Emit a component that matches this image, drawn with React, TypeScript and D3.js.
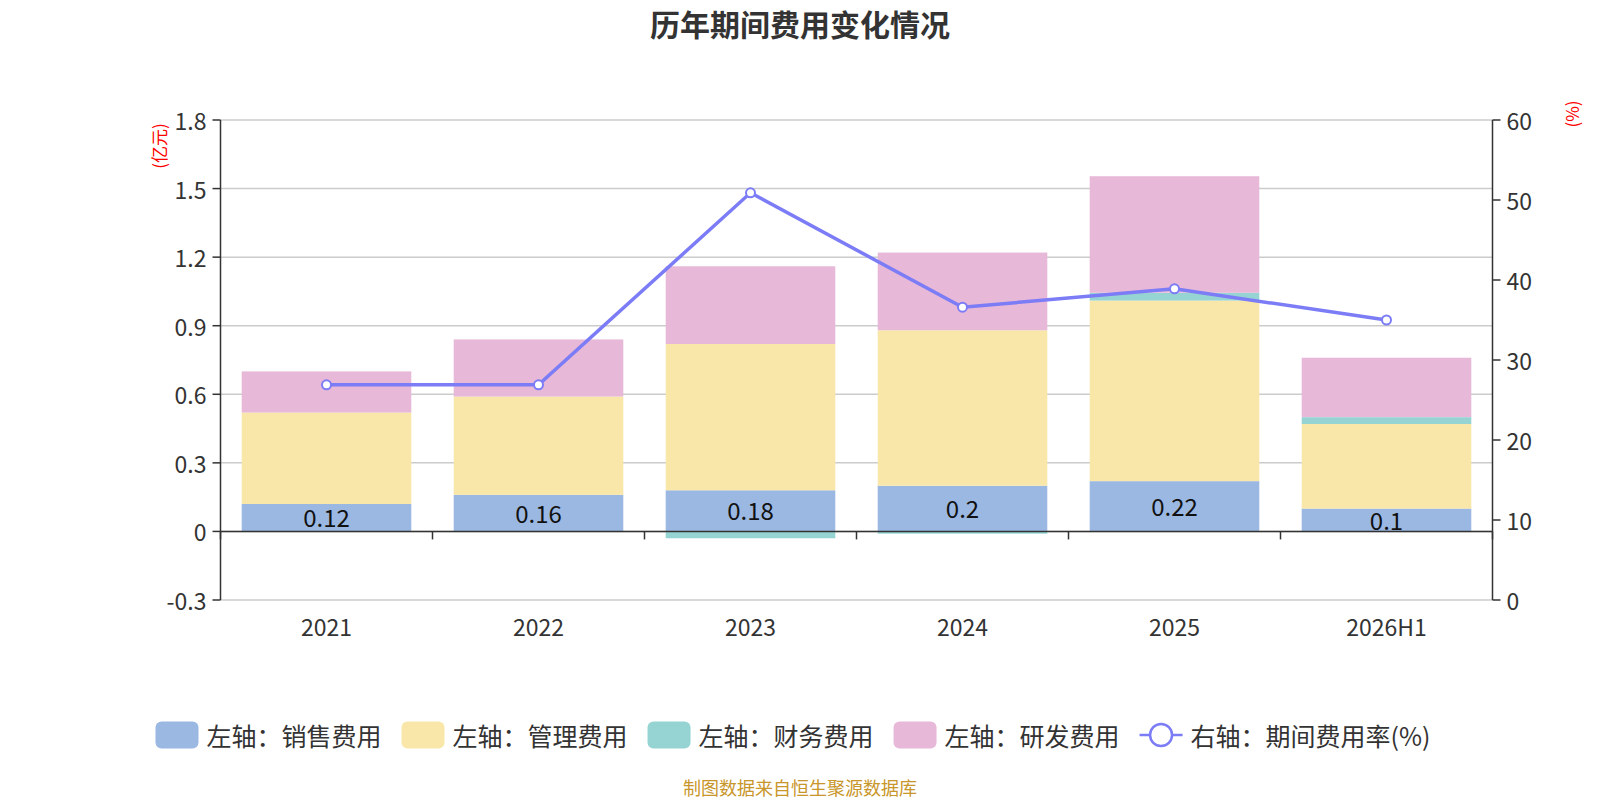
import React, { useRef, useEffect } from 'react';
import * as d3 from 'd3';

const categories = ['2021', '2022', '2023', '2024', '2025', '2026H1'];
const salesCost = [0.12, 0.16, 0.18, 0.2, 0.22, 0.1];
const adminCost = [0.4, 0.43, 0.64, 0.68, 0.79, 0.37];
const financeCost = [0, 0, -0.03, -0.01, 0.034, 0.03];
const rdCost = [0.18, 0.25, 0.34, 0.34, 0.51, 0.26];
const expenseRate = [26.9, 26.9, 50.9, 36.6, 38.9, 35.0];

const leftTicks = [-0.3, 0, 0.3, 0.6, 0.9, 1.2, 1.5, 1.8];
const rightTicks = [0, 10, 20, 30, 40, 50, 60];

const seriesNames = ['左轴：销售费用', '左轴：管理费用', '左轴：财务费用', '左轴：研发费用'];
const lineName = '右轴：期间费用率(%)';
const colors = ['#9bb8e2', '#f8e7a9', '#96d4d4', '#e7b8d8'];
const lineColor = '#7b7cf6';

const FONT = '"Noto Sans CJK SC", "Noto Sans", sans-serif';

const App: React.FC = () => {
  const svgRef = useRef<SVGSVGElement | null>(null);

  useEffect(() => {
    document.body.style.margin = '0';
    if (!svgRef.current) return;
    const svg = d3.select(svgRef.current);
    svg.selectAll('*').remove();

    const W = 1600;
    const margin = { left: 220.5, right: 1600 - 1492.5, top: 120, bottom: 200 };
    const plotW = W - margin.left - margin.right;

    const x = d3.scaleBand<string>().domain(categories).range([margin.left, margin.left + plotW]).paddingInner(0.2).paddingOuter(0.1);
    const xOuter = d3.scaleBand<string>().domain(categories).range([margin.left, margin.left + plotW]);
    const yL = d3.scaleLinear().domain([-0.3, 1.8]).range([600, 120]);
    const yR = d3.scaleLinear().domain([0, 60]).range([600, 120]);

    // title
    svg.append('text')
      .attr('x', 800).attr('y', 23)
      .attr('text-anchor', 'middle').attr('dominant-baseline', 'central')
      .attr('font-size', 30).attr('font-weight', 'bold').attr('fill', '#333')
      .text('历年期间费用变化情况');

    // grid
    svg.append('g').selectAll('line').data(leftTicks).enter().append('line')
      .attr('x1', margin.left).attr('x2', margin.left + plotW)
      .attr('y1', d => yL(d)).attr('y2', d => yL(d))
      .attr('stroke', '#ccc').attr('stroke-width', 1.5);

    // stacked bars
    const rows = categories.map((c, i) => ({ cat: c, s0: salesCost[i], s1: adminCost[i], s2: financeCost[i], s3: rdCost[i] }));
    const stack = d3.stack<any>().keys(['s0', 's1', 's2', 's3']).offset(d3.stackOffsetDiverging);
    const layers = stack(rows);
    layers.forEach((layer, li) => {
      svg.append('g').selectAll('rect').data(layer).enter().append('rect')
        .attr('x', d => x(d.data.cat)!)
        .attr('width', x.bandwidth())
        .attr('y', d => yL(Math.max(d[0], d[1])))
        .attr('height', d => Math.abs(yL(d[0]) - yL(d[1])))
        .attr('fill', colors[li]);
    });

    // labels on sales
    svg.append('g').selectAll('text').data(layers[0]).enter().append('text')
      .attr('x', d => x(d.data.cat)! + x.bandwidth() / 2)
      .attr('y', d => (yL(d[0]) + yL(d[1])) / 2 - 1)
      .attr('text-anchor', 'middle').attr('dominant-baseline', 'central')
      .attr('font-size', 24).attr('fill', '#111')
      .text(d => String(d.data.s0));

    // axes
    const axisColor = '#333';
    const gx = svg.append('g').attr('transform', `translate(0,${yL(0)})`);
    gx.append('line').attr('x1', margin.left).attr('x2', margin.left + plotW).attr('stroke', axisColor).attr('stroke-width', 1.5);
    gx.selectAll('.tk').data([...categories.map(c => xOuter(c)!), margin.left + plotW]).enter().append('line')
      .attr('x1', d => d).attr('x2', d => d).attr('y1', 0).attr('y2', 8)
      .attr('stroke', axisColor).attr('stroke-width', 1.5);
    svg.append('g').selectAll('text').data(categories).enter().append('text')
      .attr('x', d => xOuter(d)! + xOuter.bandwidth() / 2).attr('y', 626)
      .attr('text-anchor', 'middle').attr('dominant-baseline', 'central')
      .attr('font-size', 23).attr('fill', '#333').text(d => d);

    const gl = svg.append('g');
    gl.append('line').attr('x1', margin.left).attr('x2', margin.left).attr('y1', 120).attr('y2', 600).attr('stroke', axisColor).attr('stroke-width', 1.5);
    gl.selectAll('line.t').data(leftTicks).enter().append('line')
      .attr('x1', margin.left - 8).attr('x2', margin.left).attr('y1', d => yL(d)).attr('y2', d => yL(d))
      .attr('stroke', axisColor).attr('stroke-width', 1.5);
    gl.selectAll('text').data(leftTicks).enter().append('text')
      .attr('x', margin.left - 14).attr('y', d => yL(d))
      .attr('text-anchor', 'end').attr('dominant-baseline', 'central')
      .attr('font-size', 23).attr('fill', '#333').text(d => String(d));

    const xr = margin.left + plotW;
    const gr = svg.append('g');
    gr.append('line').attr('x1', xr).attr('x2', xr).attr('y1', 120).attr('y2', 600).attr('stroke', axisColor).attr('stroke-width', 1.5);
    gr.selectAll('line.t').data(rightTicks).enter().append('line')
      .attr('x1', xr).attr('x2', xr + 8).attr('y1', d => yR(d)).attr('y2', d => yR(d))
      .attr('stroke', axisColor).attr('stroke-width', 1.5);
    gr.selectAll('text').data(rightTicks).enter().append('text')
      .attr('x', xr + 14).attr('y', d => yR(d))
      .attr('text-anchor', 'start').attr('dominant-baseline', 'central')
      .attr('font-size', 23).attr('fill', '#333').text(d => String(d));

    // unit labels
    svg.append('text').attr('transform', 'translate(158,146) rotate(-90)')
      .attr('text-anchor', 'middle').attr('dominant-baseline', 'central')
      .attr('font-size', 17).attr('fill', 'red').text('(亿元)');
    svg.append('text').attr('transform', 'translate(1571,114) rotate(-90)')
      .attr('text-anchor', 'middle').attr('dominant-baseline', 'central')
      .attr('font-size', 17).attr('fill', 'red').text('(%)');

    // line
    const cx = (c: string) => xOuter(c)! + xOuter.bandwidth() / 2;
    const lineGen = d3.line<number>().x((_, i) => cx(categories[i])).y(d => yR(d));
    svg.append('path').datum(expenseRate).attr('d', lineGen)
      .attr('fill', 'none').attr('stroke', lineColor).attr('stroke-width', 3.5);
    svg.append('g').selectAll('circle').data(expenseRate).enter().append('circle')
      .attr('cx', (_, i) => cx(categories[i])).attr('cy', d => yR(d)).attr('r', 4.5)
      .attr('fill', '#fff').attr('stroke', lineColor).attr('stroke-width', 2);

    // legend
    const lg = svg.append('g');
    const items = [...seriesNames, lineName];
    const swW = 43, swH = 27, gap = 8, itemGap = 20;
    const ly = 735;
    const widths: number[] = [];
    const texts = items.map(name => {
      const t = lg.append('text').attr('font-size', 25).attr('fill', '#333')
        .attr('dominant-baseline', 'central').attr('y', ly).text(name);
      widths.push((t.node() as SVGTextElement).getComputedTextLength());
      return t;
    });
    const total = d3.sum(widths) + items.length * (swW + gap) + (items.length - 1) * itemGap;
    let cur = 793 - total / 2;
    items.forEach((name, i) => {
      if (i < seriesNames.length) {
        lg.append('rect').attr('x', cur).attr('y', ly - swH / 2).attr('width', swW).attr('height', swH)
          .attr('rx', 6).attr('fill', colors[i]);
      } else {
        lg.append('line').attr('x1', cur).attr('x2', cur + swW).attr('y1', ly).attr('y2', ly)
          .attr('stroke', lineColor).attr('stroke-width', 2.5);
        lg.append('circle').attr('cx', cur + swW / 2).attr('cy', ly).attr('r', 11)
          .attr('fill', '#fff').attr('stroke', lineColor).attr('stroke-width', 2.5);
      }
      texts[i].attr('x', cur + swW + gap);
      cur += swW + gap + widths[i] + itemGap;
    });

    // footer
    svg.append('text').attr('x', 800).attr('y', 787)
      .attr('text-anchor', 'middle').attr('dominant-baseline', 'central')
      .attr('font-size', 18).attr('fill', '#c8962a').text('制图数据来自恒生聚源数据库');
  }, []);

  return (
    <svg ref={svgRef} width={1600} height={800} style={{ display: 'block', fontFamily: FONT, background: '#fff' }} />
  );
};

export default App;
